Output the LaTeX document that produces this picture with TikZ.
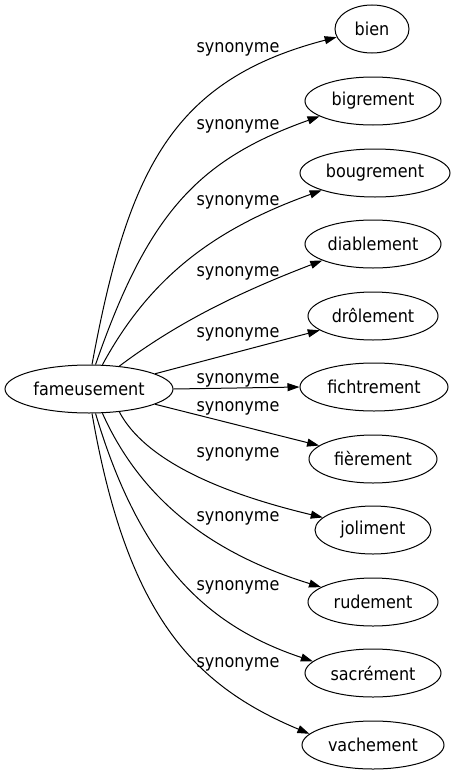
\documentclass[tikz,border=0pt]{standalone}
\usepackage{fontspec}
\setmainfont{DejaVu Sans Condensed}
\usetikzlibrary{arrows.meta,shapes.geometric}
\begin{document}
\begin{tikzpicture}[x=1pt,y=-1pt,
  every node/.style={font=\fontsize{17.8}{20}\selectfont},
  nd/.style={draw, ellipse, line width=1pt, inner sep=0pt, minimum height=48pt},
  lbl/.style={inner sep=0pt},
  edge/.style={draw, line width=1pt, -{Triangle[length=12pt,width=8pt]}}]
\useasboundingbox (0,0) rectangle (455,779);
\node[nd, minimum width=168pt] (src) at (89,389) {fameusement};
\node[nd, minimum width=74pt]  (t1)  at (372,29)  {bien};
\node[nd, minimum width=136pt] (t2)  at (373,101) {bigrement};
\node[nd, minimum width=150pt] (t3)  at (375,173) {bougrement};
\node[nd, minimum width=136pt] (t4)  at (373,244) {diablement};
\node[nd, minimum width=130pt] (t5)  at (373,316) {drôlement};
\node[nd, minimum width=148pt] (t6)  at (374,387) {fichtrement};
\node[nd, minimum width=128pt] (t7)  at (373,459) {fièrement};
\node[nd, minimum width=116pt] (t8)  at (373,530) {joliment};
\node[nd, minimum width=130pt] (t9)  at (373,602) {rudement};
\node[nd, minimum width=136pt] (t10) at (373,673) {sacrément};
\node[nd, minimum width=142pt] (t11) at (373,745) {vachement};

\draw[edge] (src.83) .. controls (128,170) and (172,80) .. (t1.193);
\draw[edge] (src.75) .. controls (147.5,215) and (196.7,160) .. (t2.196);
\draw[edge] (src.61) .. controls (151,275) and (217,228) .. (t3.198);
\draw[edge] (src.37) .. controls (178,322) and (240,292) .. (t4.198);
\draw[edge] (src.13) -- (t5.195);
\draw[edge] (src.east) -- (t6.west);
\draw[edge] (src.-13) -- (t7.166);
\draw[edge] (src.-37) .. controls (150,470) and (250,500) .. (t8.166);
\draw[edge] (src.-61) .. controls (147,513) and (230,559) .. (t9.164);
\draw[edge] (src.-75) .. controls (140,563) and (207,626) .. (t10.169);
\draw[edge] (src.-83) .. controls (127,615) and (193,685) .. (t11.170);

\node[lbl] (l1)  at (238,49)  {synonyme};
\node[lbl] (l2)  at (238,126) {synonyme};
\node[lbl] (l3)  at (238,202) {synonyme};
\node[lbl] (l4)  at (238,273) {synonyme};
\node[lbl] (l5)  at (238,334) {synonyme};
\node[lbl] (l6)  at (238,380) {synonyme};
\node[lbl] (l7)  at (238,408) {synonyme};
\node[lbl] (l8)  at (238,454) {synonyme};
\node[lbl] (l9)  at (238,518) {synonyme};
\node[lbl] (l10) at (238,587) {synonyme};
\node[lbl] (l11) at (238,664) {synonyme};
\end{tikzpicture}
\end{document}
